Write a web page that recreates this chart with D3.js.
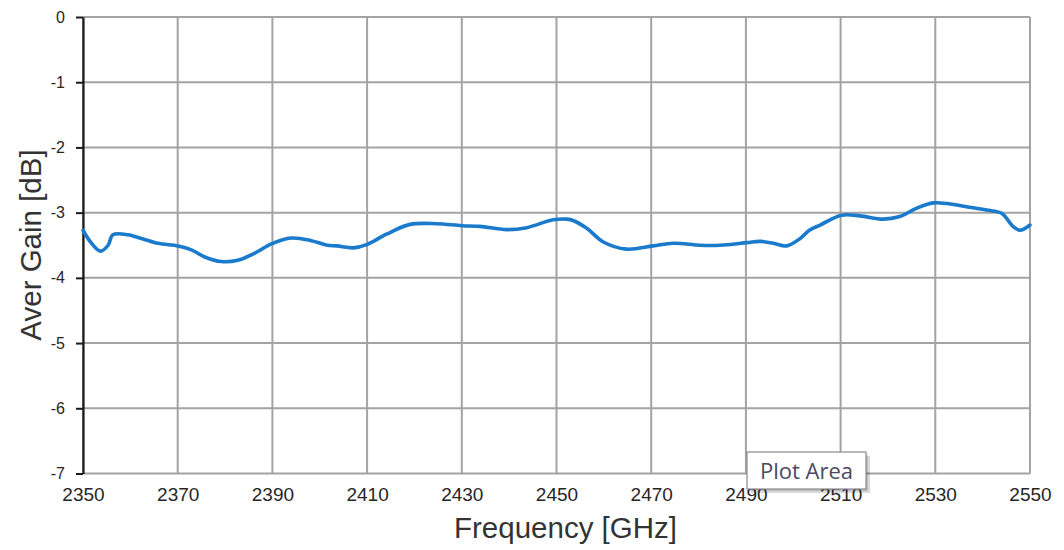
<!DOCTYPE html>
<html>
<head>
<meta charset="utf-8">
<script src="https://cdn.jsdelivr.net/npm/d3@7"></script>
<style>
  html, body { margin: 0; padding: 0; background: #fff; }
  svg { display: block; font-family: "Liberation Sans", Arial, sans-serif; }
</style>
</head>
<body>
<svg id="chart" width="1064" height="550"></svg>
<script>
// Frequency samples (GHz)
const freq = [2350.0, 2351.8, 2353.7, 2355.3, 2356.3, 2359.5, 2361.6, 2365.8, 2370.1, 2372.9,
  2375.7, 2379.2, 2382.7, 2386.3, 2389.8, 2394.0, 2398.2, 2401.6, 2403.6, 2407.1,
  2409.9, 2414.1, 2419.1, 2424.7, 2430.0, 2433.8, 2439.5, 2443.7, 2449.3, 2452.2,
  2453.5, 2456.4, 2459.9, 2464.8, 2470.4, 2474.7, 2480.3, 2484.5, 2490.2, 2493.0,
  2495.8, 2498.6, 2501.4, 2503.4, 2505.7, 2510.2, 2514.1, 2519.0, 2522.5, 2526.1,
  2529.6, 2532.4, 2536.6, 2540.8, 2544.0, 2546.4, 2547.9, 2550.0];
// Average gain (dB)
const gain = [-3.27, -3.47, -3.59, -3.50, -3.34, -3.34, -3.38, -3.47, -3.51, -3.57,
  -3.68, -3.75, -3.73, -3.62, -3.48, -3.39, -3.43, -3.50, -3.51, -3.54,
  -3.49, -3.33, -3.18, -3.17, -3.20, -3.21, -3.26, -3.23, -3.11, -3.10,
  -3.12, -3.24, -3.45, -3.56, -3.51, -3.47, -3.50, -3.50, -3.46, -3.44,
  -3.47, -3.51, -3.40, -3.27, -3.19, -3.04, -3.05, -3.10, -3.06, -2.93,
  -2.85, -2.86, -2.91, -2.96, -3.01, -3.21, -3.27, -3.19];
const xTicks = [2350, 2370, 2390, 2410, 2430, 2450, 2470, 2490, 2510, 2530, 2550];
const yTicks = [0, -1, -2, -3, -4, -5, -6, -7];
const xTitle = "Frequency [GHz]";
const yTitle = "Aver Gain [dB]";
const tooltipText = "Plot Area";

const svg = d3.select("#chart");
const pL = 83, pR = 1030, pT = 17, pB = 473.5;
const x = d3.scaleLinear().domain([2350, 2550]).range([pL, pR]);
const y = d3.scaleLinear().domain([-7, 0]).range([pB, pT]);

const gridColor = "#a3a3a3";

// vertical gridlines
svg.append("g").selectAll("line").data(xTicks).join("line")
  .attr("x1", d => x(d)).attr("x2", d => x(d))
  .attr("y1", pT).attr("y2", pB)
  .attr("stroke", gridColor).attr("stroke-width", 2);
// horizontal gridlines
svg.append("g").selectAll("line").data(yTicks).join("line")
  .attr("x1", pL).attr("x2", pR)
  .attr("y1", d => y(d)).attr("y2", d => y(d))
  .attr("stroke", gridColor).attr("stroke-width", 2);

// bottom axis (labels only)
const xAxis = svg.append("g").attr("transform", `translate(0,${pB})`)
  .call(d3.axisBottom(x).tickValues(xTicks).tickSize(0).tickPadding(14).tickFormat(d => String(d)));
xAxis.select(".domain").remove();
xAxis.selectAll("text").attr("font-size", 19).attr("fill", "#262626")
  .attr("font-family", "'Liberation Sans', Arial, sans-serif");

// left axis
const yAxis = svg.append("g").attr("transform", `translate(${pL},0)`)
  .call(d3.axisLeft(y).tickValues(yTicks).tickSize(7).tickSizeOuter(0).tickPadding(11).tickFormat(d => String(d)));
yAxis.select(".domain").attr("stroke", "#1a1a1a").attr("stroke-width", 2.2);
yAxis.selectAll(".tick line").attr("stroke", "#1a1a1a").attr("stroke-width", 2);
yAxis.selectAll("text").attr("font-size", 16).attr("fill", "#262626")
  .attr("font-family", "'Liberation Sans', Arial, sans-serif");

// data line
const line = d3.line()
  .x((d, i) => x(freq[i]))
  .y(d => y(d))
  .curve(d3.curveCatmullRom.alpha(0.5));
svg.append("path").datum(gain)
  .attr("d", line)
  .attr("fill", "none")
  .attr("stroke", "#1a7acc")
  .attr("stroke-width", 3.6)
  .attr("stroke-linejoin", "round")
  .attr("stroke-linecap", "round");

// axis titles
svg.append("text").attr("x", (pL + pR) / 2 + 9).attr("y", 538)
  .attr("text-anchor", "middle").attr("font-size", 29.5).attr("fill", "#333")
  .text(xTitle);
svg.append("text")
  .attr("transform", `translate(41,245) rotate(-90)`)
  .attr("text-anchor", "middle").attr("font-size", 29.5).attr("fill", "#333")
  .text(yTitle);

// "Plot Area" tooltip
const tip = svg.append("g").attr("transform", "translate(747,452)");
tip.append("rect").attr("x", 4).attr("y", 4).attr("width", 119).attr("height", 37)
  .attr("fill", "#000").attr("opacity", 0.15);
tip.append("rect").attr("x", 2).attr("y", 2).attr("width", 119).attr("height", 37)
  .attr("fill", "#000").attr("opacity", 0.12);
tip.append("rect").attr("x", 0).attr("y", 0).attr("width", 119).attr("height", 37)
  .attr("fill", "#fff").attr("stroke", "#8a8a8a").attr("stroke-width", 1.2);
tip.append("text").attr("x", 59.5).attr("y", 27)
  .attr("text-anchor", "middle").attr("font-size", 22).attr("fill", "#4a4a60")
  .attr("font-family", "'Open Sans', 'Noto Sans', sans-serif")
  .text(tooltipText);
</script>
</body>
</html>
